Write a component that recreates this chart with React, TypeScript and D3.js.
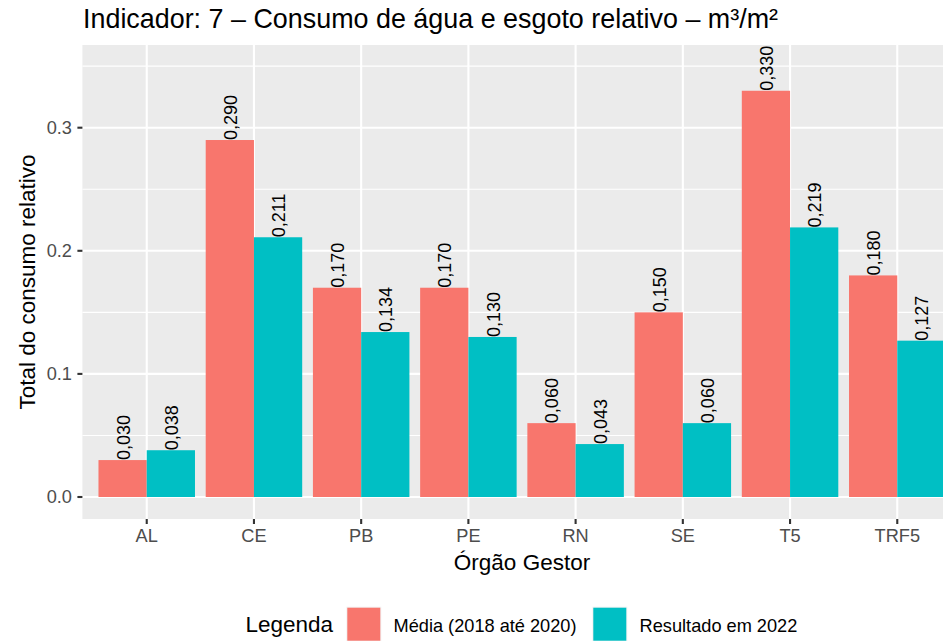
import React from "react";
import * as d3 from "d3";

const categories = ["AL", "CE", "PB", "PE", "RN", "SE", "T5", "TRF5"];
const mediaValues = [0.03, 0.29, 0.17, 0.17, 0.06, 0.15, 0.33, 0.18];
const resultadoValues = [0.038, 0.211, 0.134, 0.13, 0.043, 0.06, 0.219, 0.127];
const seriesNames = ["Média (2018 até 2020)", "Resultado em 2022"];
const seriesColors = ["#F8766D", "#00BFC4"];
const yMajorTicks = [0, 0.1, 0.2, 0.3];
const yMinorTicks = [0.05, 0.15, 0.25, 0.35];

const W = 943;
const H = 641;
const FONT = "'Liberation Sans', Arial, Helvetica, sans-serif";

export default function App() {
  const panelLeft = 82.4;
  const panelRight = 961.6;
  const panelTop = 45;
  const panelBottom = 519;

  const x = d3.scaleLinear().domain([0.4, categories.length + 0.6]).range([panelLeft, panelRight]);
  const y = d3.scaleLinear().domain([0, 0.3]).range([497, 127.7]);
  const fmt = (v: number) => d3.format(".3f")(v).replace(".", ",");
  const tickFmt = (v: number) => d3.format(".1f")(v);

  const series = [mediaValues, resultadoValues];
  const dodge = 0.45;

  return (
    <svg width={W} height={H} style={{ display: "block", position: "absolute", left: 0, top: 0 }} fontFamily={FONT}>
      <rect x={0} y={0} width={W} height={H} fill="#FFFFFF" />
      <text x={83} y={28} fontSize={26.9} fill="#000000">
        Indicador: 7 – Consumo de água e esgoto relativo – m³/m²
      </text>
      <rect x={panelLeft} y={panelTop} width={panelRight - panelLeft} height={panelBottom - panelTop} fill="#EBEBEB" />
      {yMinorTicks.map((t) => (
        <line key={"mi" + t} x1={panelLeft} x2={panelRight} y1={y(t)} y2={y(t)} stroke="#FFFFFF" strokeWidth={1.1} />
      ))}
      {yMajorTicks.map((t) => (
        <line key={"ma" + t} x1={panelLeft} x2={panelRight} y1={y(t)} y2={y(t)} stroke="#FFFFFF" strokeWidth={2.1} />
      ))}
      {categories.map((c, i) => (
        <line key={"vx" + c} x1={x(i + 1)} x2={x(i + 1)} y1={panelTop} y2={panelBottom} stroke="#FFFFFF" strokeWidth={2.1} />
      ))}
      {series.map((vals, s) =>
        vals.map((v, i) => {
          const x0 = x(i + 1 - dodge + s * dodge);
          const x1 = x(i + 1 + s * dodge);
          return (
            <rect key={"b" + s + i} x={x0} y={y(v)} width={x1 - x0} height={y(0) - y(v)} fill={seriesColors[s]} />
          );
        })
      )}
      {series.map((vals, s) =>
        vals.map((v, i) => {
          const cx = x(i + 1 - dodge / 2 + s * dodge);
          const ty = y(v);
          return (
            <text key={"l" + s + i} transform={`translate(${cx + 7},${ty}) rotate(-90)`} fontSize={18} fill="#000000" textAnchor="start">
              {fmt(v)}
            </text>
          );
        })
      )}
      {yMajorTicks.map((t) => (
        <g key={"yt" + t}>
          <line x1={panelLeft - 5} x2={panelLeft} y1={y(t)} y2={y(t)} stroke="#333333" strokeWidth={2.1} />
          <text x={72} y={y(t) + 6.4} fontSize={18.2} fill="#4D4D4D" textAnchor="end">
            {tickFmt(t)}
          </text>
        </g>
      ))}
      {categories.map((c, i) => (
        <g key={"xt" + c}>
          <line x1={x(i + 1)} x2={x(i + 1)} y1={panelBottom} y2={panelBottom + 5} stroke="#333333" strokeWidth={2.1} />
          <text x={x(i + 1)} y={542.3} fontSize={18.2} fill="#4D4D4D" textAnchor="middle">
            {c}
          </text>
        </g>
      ))}
      <text x={(panelLeft + panelRight) / 2} y={570} fontSize={22.5} fill="#000000" textAnchor="middle">
        Órgão Gestor
      </text>
      <text transform={`translate(35,${(panelTop + panelBottom) / 2}) rotate(-90)`} fontSize={22.5} fill="#000000" textAnchor="middle">
        Total do consumo relativo
      </text>
      <text x={245.4} y={632.3} fontSize={22.5} fill="#000000">
        Legenda
      </text>
      {seriesNames.map((n, s) => {
        const kx = s === 0 ? 347.3 : 593.3;
        const tx = s === 0 ? 393.5 : 639.6;
        return (
          <g key={"lg" + s}>
            <rect x={kx - 1} y={606.7} width={35} height={35} fill="#F2F2F2" />
            <rect x={kx} y={607.7} width={33} height={33} fill={seriesColors[s]} />
            <text x={tx} y={632} fontSize={18.2} fill="#000000">
              {n}
            </text>
          </g>
        );
      })}
    </svg>
  );
}
